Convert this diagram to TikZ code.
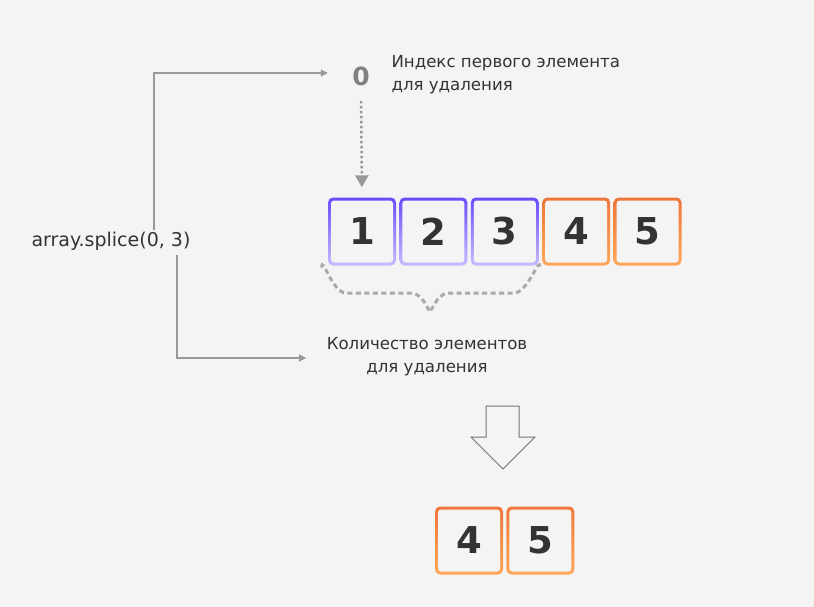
\documentclass[tikz,border=0pt]{standalone}
\usepackage{fontspec}
\setmainfont{DejaVu Sans}
\usetikzlibrary{arrows.meta,calc,positioning}
\definecolor{bg}{HTML}{F4F4F4}
\definecolor{ink}{HTML}{333333}
\definecolor{wire}{HTML}{999999}
\definecolor{dots}{HTML}{AAAAAA}
\definecolor{vioT}{HTML}{6A4CFF}
\definecolor{vioB}{HTML}{C8BAFF}
\definecolor{orT}{HTML}{EF763A}
\definecolor{orB}{HTML}{FFA85A}
\tikzset{%
	cell/.style      = {minimum size=68pt, inner sep=0pt, rounded corners=5pt, text=ink,
	                    font=\fontsize{37}{37}\selectfont\bfseries,
	                    path picture={\fill[bg, rounded corners=3pt]
	                      ([shift={(3pt,-3pt)}]path picture bounding box.north west) rectangle
	                      ([shift={(-3pt,3pt)}]path picture bounding box.south east);}},
	delcell/.style   = {cell, top color=vioT, bottom color=vioB},
	keepcell/.style  = {cell, top color=orT, bottom color=orB},
	caption/.style   = {text=ink, font=\fontsize{16.6}{23}\selectfont},
	conn/.style      = {wire, line width=1.2pt, -{Triangle[length=7pt,width=7pt]}},
	dotconn/.style   = {wire, line width=2.5pt, dash pattern=on 2.5pt off 2.5pt, -{Triangle[length=12pt,width=13pt]}},
	brace/.style     = {dots, line width=3pt, dash pattern=on 5pt off 3.5pt},
}
\begin{document}
\begin{tikzpicture}[x=1pt,y=-1pt]
	\fill[bg] (0,0) rectangle (814,607);
	% labels
	\node (zero) at (361,76) {\fontsize{25}{25}\selectfont\bfseries\color{gray}0};
	\node[caption, anchor=west, align=left] (idx) at (388,75) {Индекс первого элемента\\для удаления};
	\node[caption, anchor=west, font=\fontsize{19}{23}\selectfont] (splice) at (28,241) {array.splice(0, 3)};
	\node[caption, align=center] (qty) at (427,357) {Количество элементов\\для удаления};
	% source array
	\node[delcell] (b1) at (362,231.5) {1};
	\node[delcell, right=3pt of b1] (b2) {2};
	\node[delcell, right=3pt of b2] (b3) {3};
	\node[keepcell, right=3pt of b3] (b4) {4};
	\node[keepcell, right=3pt of b4] (b5) {5};
	% result
	\node[keepcell] (r4) at (469,540.5) {4};
	\node[keepcell, right=3pt of r4] (r5) {5};
	% connectors
	\draw[conn] ([xshift=43pt,yshift=-2pt]splice.north) |- ([xshift=-21pt,yshift=3pt]zero.west);
	\draw[conn] ([xshift=66pt,yshift=-1pt]splice.south) |- ([xshift=-17pt,yshift=-1pt]qty.west);
	\draw[dotconn, shorten <=12pt, shorten >=10pt] (zero.south) -- (b1.north);
	\draw[brace] ($(b1.south west)+(-6,2)$) to[out=90,in=180] (346,293) -- (410,293)
		to[out=0,in=120] (430,312) to[out=60,in=180] (450,293) -- (514,293)
		to[out=0,in=90] ($(b3.south east)+(1,2)$);
	% hollow arrow
	\draw[fill=bg, draw=gray!90!black, line width=1pt]
		(486,406) -- (519,406) -- (519,437) -- (535,437) -- (503,469) -- (471,437) -- (486,437) -- cycle;
\end{tikzpicture}
\end{document}
